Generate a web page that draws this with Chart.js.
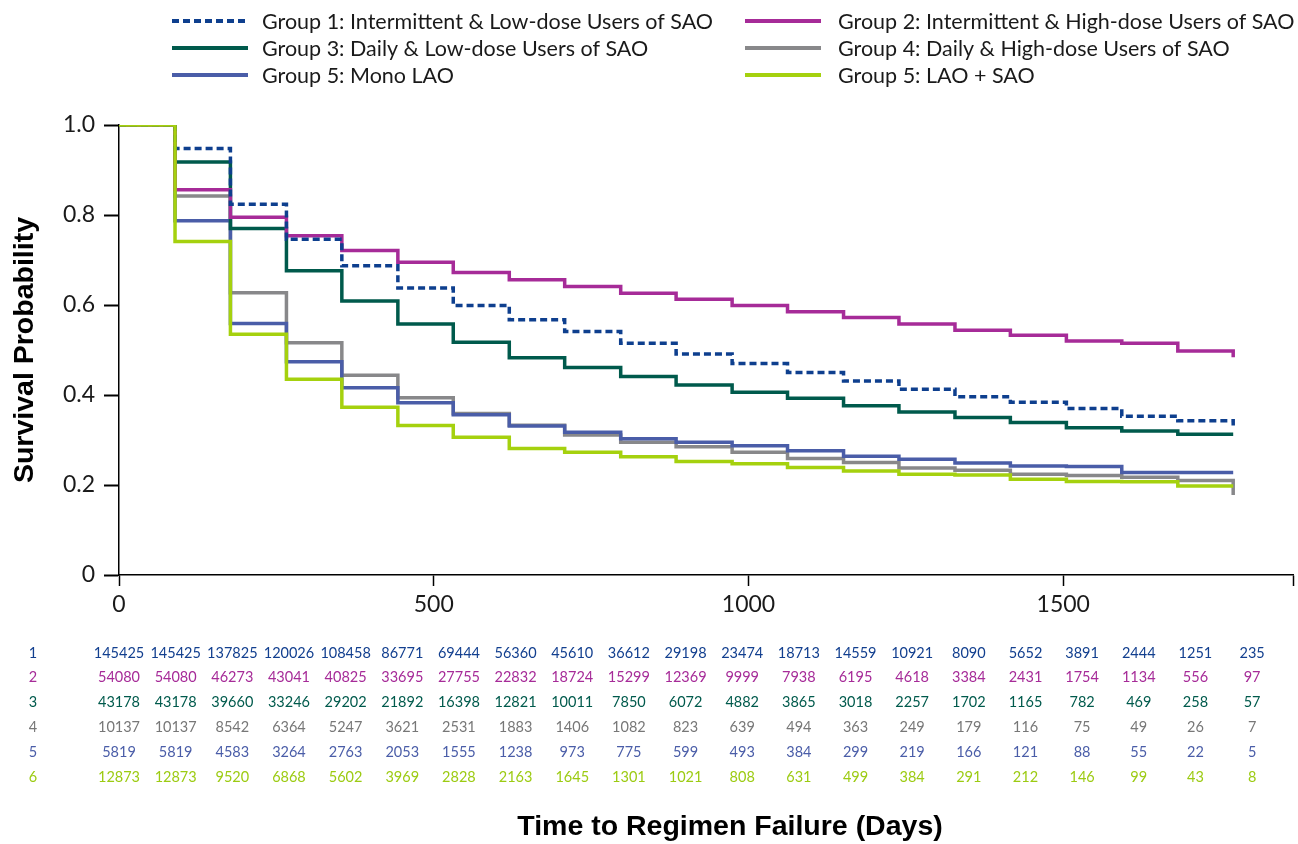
<!DOCTYPE html>
<html lang="en">
<head>
<meta charset="UTF-8">
<title>Time to Regimen Failure</title>
<script src="https://cdn.jsdelivr.net/npm/chart.js"></script>
<style>
  html, body { margin: 0; padding: 0; background: #fff; }
  #wrap { width: 1298px; height: 844px; }
</style>
</head>
<body>
<div id="wrap"><canvas id="kmChart" width="1298" height="844"></canvas></div>
<script>
// days at which the curves step down
const stepDays = [0, 89, 177, 266, 354, 443, 531, 620, 708, 797, 885, 974, 1062, 1151, 1239, 1328, 1416, 1505, 1593, 1682, 1770];

// survival probability at each step (last value = drop at end of follow-up)
const group1 = [1.0, 0.948, 0.824, 0.746, 0.687, 0.638, 0.599, 0.567, 0.541, 0.515, 0.491, 0.470, 0.450, 0.431, 0.413, 0.396, 0.384, 0.370, 0.353, 0.343, 0.332];
const group2 = [1.0, 0.856, 0.795, 0.754, 0.721, 0.695, 0.672, 0.656, 0.641, 0.626, 0.613, 0.599, 0.585, 0.572, 0.558, 0.544, 0.533, 0.520, 0.515, 0.498, 0.484];
const group3 = [1.0, 0.918, 0.770, 0.676, 0.609, 0.558, 0.517, 0.483, 0.461, 0.441, 0.422, 0.406, 0.393, 0.376, 0.362, 0.350, 0.339, 0.327, 0.320, 0.313, 0.313];
const group4 = [1.0, 0.842, 0.627, 0.516, 0.444, 0.394, 0.359, 0.333, 0.311, 0.295, 0.285, 0.273, 0.259, 0.250, 0.238, 0.233, 0.224, 0.221, 0.217, 0.210, 0.178];
const group5mono = [1.0, 0.787, 0.559, 0.474, 0.416, 0.383, 0.356, 0.331, 0.317, 0.303, 0.295, 0.287, 0.276, 0.264, 0.257, 0.249, 0.242, 0.241, 0.228, 0.228, 0.228];
const group5combo = [1.0, 0.741, 0.535, 0.435, 0.373, 0.332, 0.306, 0.281, 0.273, 0.263, 0.252, 0.247, 0.239, 0.231, 0.224, 0.222, 0.213, 0.208, 0.207, 0.198, 0.198];

const groupLabels = [
  'Group 1: Intermittent & Low-dose Users of SAO',
  'Group 2: Intermittent & High-dose Users of SAO',
  'Group 3: Daily & Low-dose Users of SAO',
  'Group 4: Daily & High-dose Users of SAO',
  'Group 5: Mono LAO',
  'Group 5: LAO + SAO'
];

// number at risk table
const riskDays = [0, 90, 180, 270, 360, 450, 540, 630, 720, 810, 900, 990, 1080, 1170, 1260, 1350, 1440, 1530, 1620, 1710, 1800];
const riskRowNames = ['1', '2', '3', '4', '5', '6'];
const risk1 = [145425, 145425, 137825, 120026, 108458, 86771, 69444, 56360, 45610, 36612, 29198, 23474, 18713, 14559, 10921, 8090, 5652, 3891, 2444, 1251, 235];
const risk2 = [54080, 54080, 46273, 43041, 40825, 33695, 27755, 22832, 18724, 15299, 12369, 9999, 7938, 6195, 4618, 3384, 2431, 1754, 1134, 556, 97];
const risk3 = [43178, 43178, 39660, 33246, 29202, 21892, 16398, 12821, 10011, 7850, 6072, 4882, 3865, 3018, 2257, 1702, 1165, 782, 469, 258, 57];
const risk4 = [10137, 10137, 8542, 6364, 5247, 3621, 2531, 1883, 1406, 1082, 823, 639, 494, 363, 249, 179, 116, 75, 49, 26, 7];
const risk5 = [5819, 5819, 4583, 3264, 2763, 2053, 1555, 1238, 973, 775, 599, 493, 384, 299, 219, 166, 121, 88, 55, 22, 5];
const risk6 = [12873, 12873, 9520, 6868, 5602, 3969, 2828, 2163, 1645, 1301, 1021, 808, 631, 499, 384, 291, 212, 146, 99, 43, 8];

const xTicks = [0, 500, 1000, 1500];
const yTicks = [0, 0.2, 0.4, 0.6, 0.8, 1.0];
const xMax = 1865;
const xTitle = 'Time to Regimen Failure (Days)';

const colors = ['#0e3f8e', '#a62b98', '#005a4c', '#88888a', '#4a5da8', '#a5d10e'];
const riskColors = ['#123f8f', '#a62b98', '#005a4c', '#777777', '#4a5da8', '#9ccb12'];
const drawOrder = [2, 3, 4, 6, 5, 1];

const series = [group1, group2, group3, group4, group5mono, group5combo];
const riskRows = [risk1, risk2, risk3, risk4, risk5, risk6];

const lightFont = 'Lato, "Open Sans", sans-serif';
const boldFont = '"Liberation Sans", Arial, sans-serif';

const datasets = series.map((vals, i) => ({
  label: groupLabels[i],
  data: vals.map((v, k) => ({ x: stepDays[k], y: v })),
  borderColor: colors[i],
  backgroundColor: colors[i],
  borderWidth: 3.5,
  borderDash: i === 0 ? [7, 4] : [],
  borderCapStyle: 'butt',
  stepped: true,
  pointRadius: 0,
  fill: false,
  order: drawOrder[i]
}));

// legend in two columns, three rows
const legendCols = [{ line: 172, text: 262 }, { line: 745, text: 838 }];
const legendRows = [21, 48, 75];

const kmLegend = {
  id: 'kmLegend',
  afterDraw(chart) {
    const ctx = chart.ctx;
    ctx.save();
    ctx.font = '21.5px ' + lightFont;
    ctx.textBaseline = 'middle';
    ctx.textAlign = 'left';
    chart.data.datasets.forEach((ds, i) => {
      const col = legendCols[i % 2];
      const y = legendRows[Math.floor(i / 2)];
      ctx.strokeStyle = ds.borderColor;
      ctx.lineWidth = 4;
      ctx.setLineDash(ds.borderDash || []);
      ctx.beginPath();
      ctx.moveTo(col.line, y);
      ctx.lineTo(col.line + 76, y);
      ctx.stroke();
      ctx.setLineDash([]);
      ctx.fillStyle = '#1a1a1a';
      ctx.fillText(ds.label, col.text, y + 1);
    });
    ctx.restore();
  }
};

// number-at-risk rows and the x title under them
const riskTable = {
  id: 'riskTable',
  afterDraw(chart) {
    const ctx = chart.ctx;
    const xs = chart.scales.x;
    ctx.save();
    ctx.font = '14.5px ' + lightFont;
    ctx.textBaseline = 'middle';
    ctx.textAlign = 'center';
    riskRows.forEach((row, r) => {
      const y = 653 + r * 24.8;
      ctx.fillStyle = riskColors[r];
      ctx.fillText(riskRowNames[r], 33, y);
      row.forEach((n, j) => {
        ctx.fillText(String(n), xs.getPixelForValue(riskDays[j]), y);
      });
    });
    ctx.font = 'bold 28.5px ' + boldFont;
    ctx.fillStyle = '#000';
    ctx.fillText(xTitle, 730, 827);
    ctx.restore();
  }
};

const ctx = document.getElementById('kmChart').getContext('2d');
const kmChart = new Chart(ctx, {
  type: 'line',
  data: { datasets: datasets },
  plugins: [kmLegend, riskTable],
  options: {
    responsive: false,
    animation: false,
    layout: { padding: { top: 125, right: 2, left: 0, bottom: 0 } },
    plugins: {
      legend: { display: false },
      tooltip: { enabled: false }
    },
    scales: {
      x: {
        type: 'linear',
        min: 0,
        max: xMax,
        afterBuildTicks: s => { s.ticks = xTicks.concat([xMax]).map(v => ({ value: v })); },
        afterFit: s => { s.height = 269; },
        border: { color: '#000', width: 1.5 },
        grid: { drawOnChartArea: false, tickLength: 11, tickColor: '#000', tickWidth: 1.5 },
        ticks: {
          autoSkip: false,
          maxRotation: 0,
          padding: 5,
          color: '#1a1a1a',
          font: { family: lightFont, size: 23 },
          callback: v => (v === xMax ? '' : String(v))
        }
      },
      y: {
        min: 0,
        max: 1.0,
        afterBuildTicks: s => { s.ticks = yTicks.map(v => ({ value: v })); },
        afterFit: s => { s.width = 119; },
        border: { color: '#000', width: 1.5 },
        grid: { drawOnChartArea: false, tickLength: 15, tickColor: '#000', tickWidth: 2 },
        ticks: {
          padding: 9,
          color: '#1a1a1a',
          font: { family: lightFont, size: 23 },
          callback: v => (v === 0 ? '0' : v.toFixed(1))
        },
        title: {
          display: true,
          text: 'Survival Probability',
          color: '#000',
          font: { family: boldFont, size: 28.5, weight: 'bold' },
          padding: { top: 8, bottom: 0 }
        }
      }
    }
  }
});
</script>
</body>
</html>
